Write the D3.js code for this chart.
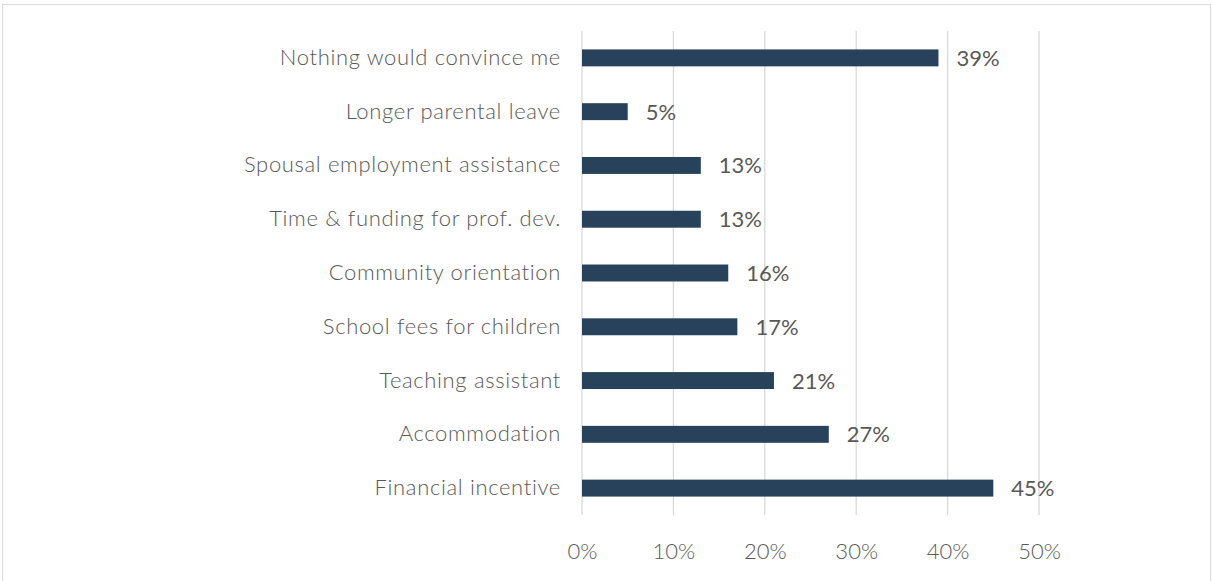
<!DOCTYPE html>
<html>
<head>
<meta charset="utf-8">
<script src="https://cdn.jsdelivr.net/npm/d3@7"></script>
<style>
  html, body { margin: 0; padding: 0; background: #fff; }
  svg { display: block; }
  text { font-family: Lato, "Noto Sans", sans-serif; }
</style>
</head>
<body>
<div id="chart"></div>
<script>
// Survey responses: what would convince respondents to take a post
const categories = [
  "Nothing would convince me",
  "Longer parental leave",
  "Spousal employment assistance",
  "Time & funding for prof. dev.",
  "Community orientation",
  "School fees for children",
  "Teaching assistant",
  "Accommodation",
  "Financial incentive"
];
const values = [39, 5, 13, 13, 16, 17, 21, 27, 45];
const tickValues = [0, 10, 20, 30, 40, 50];

const W = 1212, H = 581;
const margin = { left: 582, right: 173, top: 31, bottom: 66 };
const FONT = "Lato, 'Noto Sans', sans-serif";

const svg = d3.select("#chart").append("svg")
  .attr("width", W).attr("height", H);

// chart frame
svg.append("rect")
  .attr("x", 2.5).attr("y", 4.5)
  .attr("width", W - 4).attr("height", H)
  .attr("fill", "none").attr("stroke", "#d9d9d9").attr("stroke-width", 1);

const x = d3.scaleLinear().domain([0, 50]).range([margin.left, W - margin.right]);
const y = d3.scaleBand().domain(categories)
  .range([margin.top, H - margin.bottom]).paddingInner(0.685).paddingOuter(0.3425);

// vertical gridlines
svg.append("g").selectAll("line").data(tickValues).join("line")
  .attr("x1", d => x(d)).attr("x2", d => x(d))
  .attr("y1", margin.top).attr("y2", H - margin.bottom)
  .attr("stroke", "#d9d9d9").attr("stroke-width", 1.3);

// x-axis tick labels
const xAxis = d3.axisBottom(x).tickValues(tickValues)
  .tickFormat(d => d + "%").tickSize(0).tickPadding(0);
const gx = svg.append("g")
  .attr("transform", `translate(0,${H - margin.bottom + 28})`)
  .call(xAxis);
gx.select(".domain").remove();
gx.selectAll("text").attr("font-size", 22).attr("font-weight", 300)
  .attr("fill", "#595959").style("font-family", FONT);

// category labels
const yAxis = d3.axisLeft(y).tickSize(0).tickPadding(21);
const gy = svg.append("g").attr("transform", `translate(${margin.left},0)`).call(yAxis);
gy.select(".domain").remove();
gy.selectAll("text").attr("font-size", 22).attr("font-weight", 300)
  .attr("letter-spacing", 0.65)
  .attr("fill", "#595959").style("font-family", FONT);

// bars
svg.append("g").selectAll("rect").data(values).join("rect")
  .attr("x", x(0))
  .attr("y", (d, i) => y(categories[i]))
  .attr("width", d => x(d) - x(0))
  .attr("height", y.bandwidth())
  .attr("fill", "#27425a");

// value labels
svg.append("g").selectAll("text").data(values).join("text")
  .attr("x", d => x(d) + 18)
  .attr("y", (d, i) => y(categories[i]) + y.bandwidth() / 2 + 8)
  .attr("font-size", 22).attr("fill", "#585858")
  .text(d => d + "%");
</script>
</body>
</html>
